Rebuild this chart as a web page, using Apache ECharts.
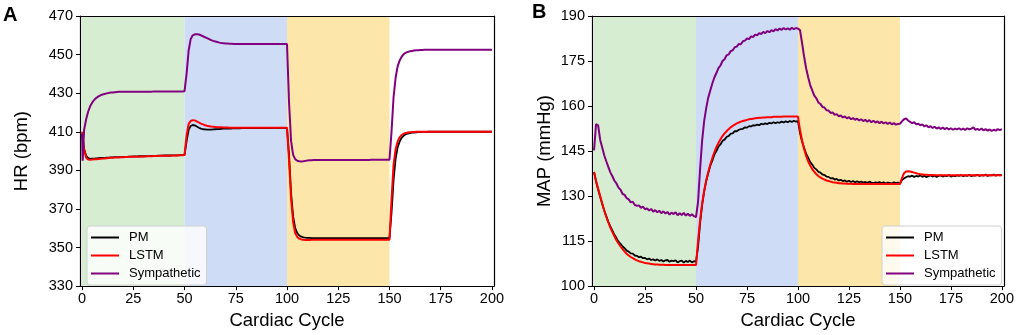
<!DOCTYPE html>
<html>
<head>
<meta charset="utf-8">
<script src="https://cdn.jsdelivr.net/npm/echarts@6/dist/echarts.min.js"></script>
<style>
html,body{margin:0;padding:0;background:#fff;}
#chart{width:1017px;height:335px;}
</style>
</head>
<body>
<div id="chart"></div>
<script>
// ---------------- DATA ----------------
const seriesNames = ['PM', 'LSTM', 'Sympathetic'];
const xTicks = [0, 25, 50, 75, 100, 125, 150, 175, 200];
const hrTicks = [330, 350, 370, 390, 410, 430, 450, 470];
const mapTicks = [100, 115, 130, 145, 160, 175, 190];
const phases = [[0, 50], [50, 100], [100, 150]];

// Panel A: HR (bpm), cycles 0..200
const pmA = [
 409, 401, 397.5, 396.3, 396, 396, 396.1, 396.2, 396.3, 396.4,
 396.5, 396.5, 396.6, 396.6, 396.7, 396.7, 396.8, 396.8, 396.9, 396.9,
 397, 397, 397, 397.1, 397.1, 397.2, 397.2, 397.2, 397.3, 397.3,
 397.3, 397.4, 397.4, 397.4, 397.5, 397.5, 397.5, 397.6, 397.6, 397.6,
 397.7, 397.7, 397.7, 397.7, 397.8, 397.8, 397.8, 397.8, 397.9, 397.9,
 398, 405, 411, 413, 413.5, 413.3, 412.7, 412.1, 411.6, 411.3,
 411.2, 411.1, 411.1, 411.1, 411.2, 411.3, 411.4, 411.4, 411.5, 411.6,
 411.6, 411.7, 411.7, 411.7, 411.8, 411.8, 411.8, 411.8, 411.9, 411.9,
 411.9, 411.9, 411.9, 411.9, 411.9, 411.9, 411.9, 411.9, 411.9, 411.9,
 411.9, 411.9, 411.9, 411.9, 411.9, 411.9, 411.9, 411.9, 411.9, 411.9,
 411.9, 398, 378, 366, 360, 357.5, 356.2, 355.6, 355.3, 355.1,
 355, 355, 354.9, 354.9, 354.9, 354.9, 354.9, 354.9, 354.9, 354.9,
 354.9, 354.9, 354.9, 354.9, 354.9, 354.9, 354.9, 354.9, 354.9, 354.9,
 354.9, 354.9, 354.9, 354.9, 354.9, 354.9, 354.9, 354.9, 354.9, 354.9,
 354.9, 354.9, 354.9, 354.9, 354.9, 354.9, 354.9, 354.9, 354.9, 354.9,
 354.9, 368, 385, 396, 402, 405, 407, 408, 408.7, 409.1,
 409.3, 409.5, 409.6, 409.7, 409.8, 409.8, 409.9, 409.9, 409.9, 410,
 410, 410, 410, 410, 410, 410, 410, 410, 410, 410,
 410, 410, 410, 410, 410, 410, 410, 410, 410, 410,
 410, 410, 410, 410, 410, 410, 410, 410, 410, 410,
 410
];
const lstmA = [
 410, 401, 396.5, 395.6, 395.5, 395.6, 395.7, 395.8, 395.9, 396,
 396.1, 396.2, 396.3, 396.4, 396.5, 396.5, 396.6, 396.7, 396.7, 396.8,
 396.8, 396.9, 396.9, 397, 397, 397, 397.1, 397.1, 397.1, 397.2,
 397.2, 397.2, 397.3, 397.3, 397.3, 397.4, 397.4, 397.4, 397.5, 397.5,
 397.5, 397.6, 397.6, 397.6, 397.7, 397.7, 397.7, 397.8, 397.8, 397.8,
 397.9, 408, 414, 415.6, 416, 415.9, 415.4, 414.8, 414.2, 413.8,
 413.4, 413.1, 412.9, 412.7, 412.6, 412.5, 412.4, 412.3, 412.3, 412.2,
 412.2, 412.2, 412.1, 412.1, 412.1, 412.1, 412.1, 412.1, 412.1, 412.1,
 412.1, 412.1, 412.1, 412.1, 412.1, 412.1, 412.1, 412.1, 412.1, 412.1,
 412.1, 412.1, 412.1, 412.1, 412.1, 412.1, 412.1, 412.1, 412.1, 412.1,
 412.1, 395, 375, 363, 357.5, 355.5, 354.6, 354.2, 354, 353.9,
 353.9, 353.9, 354, 354, 354, 354, 354, 354, 354, 354,
 354, 354, 354, 354, 354, 354, 354, 354, 354, 354,
 354, 354, 354, 354, 354, 354, 354, 354, 354, 354,
 354, 354, 354, 354, 354, 354, 354, 354, 354, 354,
 354, 375, 393, 401, 405, 407.2, 408.3, 409, 409.4, 409.6,
 409.8, 409.9, 409.9, 410, 410, 410, 410, 410, 410, 410,
 410, 410, 410, 410, 410, 410, 410, 410, 410, 410,
 410, 410, 410, 410, 410, 410, 410, 410, 410, 410,
 410, 410, 410, 410, 410, 410, 410, 410, 410, 410,
 410
];
// sympathetic HR: first two points are the initial transient [cycle, value]
const symAHead = [[0, 409], [0.3, 395]];
// cycles 1..200
const symA = [
        411, 416.5, 420.5, 423.3, 425.2, 426.6, 427.6, 428.3, 428.9,
 429.3, 429.6, 429.9, 430.1, 430.3, 430.4, 430.5, 430.6, 430.7, 430.7,
 430.8, 430.8, 430.8, 430.8, 430.8, 430.8, 430.8, 430.8, 430.8, 430.8,
 430.8, 430.8, 430.8, 430.8, 430.8, 430.9, 430.9, 430.9, 430.9, 430.9,
 430.9, 430.9, 430.9, 430.9, 430.9, 430.9, 430.9, 430.9, 430.9, 430.9,
 431, 440, 452, 458, 460, 460.5, 460.6, 460.4, 460, 459.5,
 459, 458.5, 458, 457.5, 457.1, 456.8, 456.5, 456.2, 456, 455.9,
 455.8, 455.7, 455.6, 455.6, 455.5, 455.5, 455.5, 455.5, 455.5, 455.5,
 455.5, 455.5, 455.5, 455.5, 455.5, 455.5, 455.5, 455.5, 455.5, 455.5,
 455.5, 455.5, 455.5, 455.5, 455.5, 455.5, 455.5, 455.5, 455.5, 455.5,
 455.5, 425, 405, 398, 395.8, 395, 394.7, 394.6, 394.7, 394.9,
 395.1, 395.2, 395.2, 395.3, 395.3, 395.3, 395.4, 395.4, 395.4, 395.4,
 395.4, 395.4, 395.4, 395.4, 395.4, 395.4, 395.4, 395.4, 395.4, 395.4,
 395.4, 395.4, 395.4, 395.4, 395.4, 395.4, 395.4, 395.4, 395.4, 395.4,
 395.4, 395.5, 395.5, 395.5, 395.5, 395.5, 395.5, 395.5, 395.5, 395.5,
 395.5, 410, 428, 438, 444, 447, 449, 450.3, 451, 451.4,
 451.7, 451.9, 452.1, 452.2, 452.3, 452.4, 452.4, 452.5, 452.5, 452.5,
 452.5, 452.5, 452.5, 452.5, 452.5, 452.5, 452.5, 452.5, 452.5, 452.5,
 452.5, 452.5, 452.5, 452.5, 452.5, 452.5, 452.5, 452.5, 452.5, 452.5,
 452.5, 452.5, 452.5, 452.5, 452.5, 452.5, 452.5, 452.5, 452.5, 452.5,
 452.5
];

// Panel B: MAP (mmHg), cycles 0..200
const pmB = [
 138, 134.8, 132.2, 129.8, 127.4, 125.2, 123.3, 121.4, 119.9, 118.5,
 117.1, 116, 114.8, 114.1, 113.2, 112.6, 111.8, 111.5, 110.9, 110.8,
 110.2, 110.1, 109.6, 109.8, 109.3, 109.4, 108.9, 109.2, 108.7, 108.9,
 108.5, 108.9, 108.4, 108.7, 108.2, 108.6, 108.7, 108.1, 108.5, 108.3,
 108.6, 107.9, 108.3, 108.5, 107.8, 108.4, 108.0, 108.5, 107.9, 108.3,
 108.1, 113, 121, 127, 131.5, 135, 137.6, 140.1, 141.8, 143.8,
 145.0, 146.5, 147.2, 148.4, 148.8, 149.7, 150.0, 150.8, 150.9, 151.6,
 151.6, 152.1, 152.3, 152.4, 152.9, 152.8, 153.3, 153.2, 153.6, 153.5,
 153.8, 153.6, 154.1, 153.9, 154.2, 154.0, 154.4, 154.2, 154.6, 154.3,
 154.6, 154.4, 154.8, 154.5, 154.9, 154.6, 155.0, 154.7, 155.1, 154.8,
 155.0, 151, 148.2, 146.1, 144.1, 142.8, 141.3, 140.5, 139.4, 138.9,
 138.1, 137.8, 137.2, 137.0, 136.5, 136.4, 135.9, 136.0, 135.5, 135.7,
 135.2, 135.4, 135.0, 135.2, 134.8, 135.1, 134.7, 135.0, 134.6, 134.9,
 134.6, 134.8, 134.5, 134.7, 134.4, 134.8, 134.5, 134.3, 134.6, 134.4,
 134.7, 134.3, 134.6, 134.2, 134.5, 134.4, 134.2, 134.6, 134.3, 134.5,
 134.2, 135.3, 135.9, 136.3, 136.6, 136.5, 136.8, 136.4, 136.7, 136.5,
 136.9, 136.4, 136.8, 136.3, 136.6, 136.9, 136.5, 136.8, 136.4, 136.7,
 136.9, 136.5, 136.8, 136.6, 137.0, 136.5, 136.8, 136.6, 136.9, 136.7,
 137.0, 136.6, 136.9, 136.7, 137.1, 136.6, 136.9, 136.8, 137.1, 136.7,
 137.0, 136.8, 137.2, 136.7, 137.0, 136.9, 137.2, 136.8, 137.1, 136.9,
 137.1
];
const lstmB = [
 138, 135, 132.5, 130, 127.5, 125.2, 123.1, 121.2, 119.5, 118,
 116.6, 115.3, 114.2, 113.2, 112.3, 111.5, 110.8, 110.2, 109.7, 109.3,
 108.9, 108.6, 108.3, 108.1, 107.9, 107.7, 107.6, 107.5, 107.4, 107.3,
 107.2, 107.2, 107.1, 107.1, 107.1, 107.0, 107.0, 107.0, 107.0, 107.0,
 107.0, 107.0, 107.0, 107.0, 107.0, 107.0, 107.0, 107.0, 107.0, 107.0,
 107.0, 115, 122, 127.5, 131.8, 135.2, 138, 140.5, 142.7, 144.6,
 146.3, 147.7, 148.9, 150, 150.9, 151.6, 152.3, 152.9, 153.4, 153.8,
 154.2, 154.5, 154.8, 155.0, 155.2, 155.4, 155.6, 155.7, 155.8, 155.9,
 156.0, 156.1, 156.1, 156.2, 156.2, 156.3, 156.3, 156.3, 156.4, 156.4,
 156.4, 156.4, 156.4, 156.5, 156.5, 156.5, 156.5, 156.5, 156.5, 156.5,
 156.5, 152, 148.5, 145.7, 143.4, 141.6, 140.2, 139, 138.1, 137.3,
 136.7, 136.2, 135.8, 135.5, 135.2, 135, 134.8, 134.6, 134.5, 134.4,
 134.3, 134.3, 134.2, 134.2, 134.1, 134.1, 134.1, 134.0, 134.0, 134.0,
 134.0, 134.0, 134.0, 134.0, 134.0, 134.0, 134.0, 134.0, 134.0, 134.0,
 134.0, 134.0, 134.0, 134.0, 134.0, 134.0, 134.0, 134.0, 134.0, 134.0,
 134.0, 136, 137.6, 138.2, 138.3, 138.2, 138, 137.8, 137.6, 137.4,
 137.3, 137.2, 137.1, 137.1, 137.0, 137.0, 137.0, 136.9, 136.9, 136.9,
 136.9, 136.9, 136.9, 136.9, 136.9, 136.9, 136.9, 136.9, 136.9, 136.9,
 136.9, 136.9, 136.9, 136.9, 136.9, 136.9, 136.9, 136.9, 136.9, 136.9,
 136.9, 136.9, 136.9, 136.9, 136.9, 136.9, 136.9, 136.9, 136.9, 136.9,
 136.9
];
const symB = [
 145.2, 154, 153.6, 148.8, 146.2, 143.6, 141.6, 139.7, 137.9, 136.6,
 135.1, 134.2, 132.8, 132.1, 130.7, 130.4, 129.3, 128.9, 127.9, 128.1,
 127.0, 126.8, 126.9, 126.1, 126.5, 125.6, 125.9, 125.2, 125.7, 124.8,
 125.3, 124.6, 125.1, 124.3, 124.9, 124.2, 124.7, 123.8, 124.5, 124.0,
 124.6, 123.6, 124.3, 123.7, 124.4, 123.5, 124.1, 123.4, 123.9, 123.3,
 123.0, 128, 139, 148.5, 155, 159.3, 162.8, 165.2, 167.5, 169.5,
 171.0, 172.6, 173.5, 175.0, 175.6, 176.9, 177.2, 178.3, 178.6, 179.6,
 179.8, 180.7, 180.6, 181.6, 181.8, 182.5, 182.3, 183.2, 183.0, 183.8,
 183.6, 184.3, 184.0, 184.7, 184.3, 185.0, 184.6, 185.3, 184.9, 185.6,
 185.2, 185.8, 185.4, 186.0, 185.5, 185.9, 185.4, 186.1, 185.6, 186.0,
 185.8, 185.3, 181, 176.5, 172.6, 169.6, 167.0, 165.2, 163.5, 162.6,
 161.2, 160.7, 159.7, 159.5, 158.6, 158.5, 157.7, 157.9, 157.1, 157.3,
 156.6, 156.9, 156.2, 156.5, 155.9, 156.3, 155.6, 156.0, 155.4, 155.8,
 155.2, 155.6, 155.0, 155.4, 154.8, 155.3, 154.6, 155.1, 154.5, 154.9,
 154.3, 154.8, 154.2, 154.6, 154.0, 154.5, 153.9, 154.3, 153.8, 154.0,
 154.1, 154.9, 155.6, 155.9, 155.2, 154.7, 154.3, 154.6, 153.9, 154.1,
 153.6, 153.9, 153.2, 153.6, 152.9, 153.3, 152.7, 153.1, 152.5, 152.9,
 152.4, 152.8, 152.3, 152.7, 152.2, 152.6, 152.1, 152.5, 152.2, 152.6,
 152.1, 152.5, 152.0, 152.6, 152.2, 152.5, 152.9, 152.1, 152.4, 152.0,
 152.5, 151.9, 152.3, 151.8, 152.2, 151.7, 152.1, 151.8, 152.3, 152.0,
 152.3
];

// ---------------- STYLE ----------------
const FONT = '"Liberation Sans", Arial, Helvetica, sans-serif';
const colors = { PM: '#000000', LSTM: '#ff0000', Sympathetic: '#800080' };
const phaseColors = ['#d6edd1', '#cfdcf6', '#fde6aa'];
const AXIS_LINE = { show: true, onZero: false, lineStyle: { color: '#000', width: 1.2 } };

function pairs(vals, start) {
  return vals.map((v, i) => [i + start, v]);
}

function xAxisFor(idx) {
  return {
    type: 'value', gridIndex: idx, min: -1, max: 201, z: 10,
    name: 'Cardiac Cycle', nameLocation: 'middle', nameGap: 19,
    nameTextStyle: { fontFamily: FONT, fontSize: 18.5, color: '#000' },
    axisLine: AXIS_LINE,
    axisTick: { show: true, length: 4, inside: false, customValues: xTicks, lineStyle: { color: '#000', width: 1 } },
    axisLabel: { customValues: xTicks, fontFamily: FONT, fontSize: 14.5, color: '#000', margin: 5 },
    splitLine: { show: false }
  };
}
function frameX(idx) {
  return {
    type: 'value', gridIndex: idx, position: 'top', min: -1, max: 201, z: 10,
    axisLine: AXIS_LINE, axisTick: { show: false }, axisLabel: { show: false }, splitLine: { show: false }
  };
}
function yAxisFor(idx, name, min, max, ticks, gap) {
  return {
    type: 'value', gridIndex: idx, min: min, max: max, z: 10,
    name: name, nameLocation: 'middle', nameGap: gap,
    nameTextStyle: { fontFamily: FONT, fontSize: 18.5, color: '#000' },
    axisLine: AXIS_LINE,
    axisTick: { show: true, length: 4, inside: false, customValues: ticks, lineStyle: { color: '#000', width: 1 } },
    axisLabel: { customValues: ticks, fontFamily: FONT, fontSize: 14.5, color: '#000', margin: 7 },
    splitLine: { show: false }
  };
}
function frameY(idx, min, max) {
  return {
    type: 'value', gridIndex: idx, position: 'right', min: min, max: max, z: 10,
    axisLine: AXIS_LINE, axisTick: { show: false }, axisLabel: { show: false }, splitLine: { show: false }
  };
}
function lineSeries(name, data, gi, withShade) {
  const s = {
    name: name, type: 'line', xAxisIndex: gi, yAxisIndex: gi,
    data: data, showSymbol: false, symbol: 'none', smooth: false,
    lineStyle: { color: colors[name], width: name === 'PM' ? 1.8 : 2 },
    itemStyle: { color: colors[name] },
    animation: false, z: 3
  };
  if (withShade) {
    s.markArea = {
      silent: true,
      data: phases.map((p, k) => [
        { xAxis: p[0], itemStyle: { color: phaseColors[k], opacity: 1 } },
        { xAxis: p[1] }
      ])
    };
  }
  return s;
}
function legendFor(left) {
  return {
    data: seriesNames, orient: 'vertical', left: left, top: 226,
    icon: 'rect', itemWidth: 28, itemHeight: 2, itemGap: 5,
    padding: [5, 6, 5, 4], z: 20,
    backgroundColor: 'rgba(255,255,255,0.8)', borderColor: '#d0d0d0', borderWidth: 1, borderRadius: 3,
    textStyle: { fontFamily: FONT, fontSize: 13, color: '#000', padding: [0, 0, 0, 5] },
    selectedMode: false
  };
}

const option = {
  animation: false,
  backgroundColor: '#fff',
  grid: [
    { left: 80, top: 16, width: 414, height: 276 },
    { left: 592, top: 16, width: 414, height: 276 }
  ],
  xAxis: [xAxisFor(0), xAxisFor(1), frameX(0), frameX(1)],
  yAxis: [
    yAxisFor(0, 'HR (bpm)', 330, 470, hrTicks, 49),
    yAxisFor(1, 'MAP (mmHg)', 100, 190, mapTicks, 38),
    frameY(0, 330, 470),
    frameY(1, 100, 190)
  ],
  legend: [legendFor(87), legendFor(882)],
  graphic: [
    { type: 'text', left: 3, top: 5, style: { text: 'A', fontFamily: FONT, fontSize: 20, fontWeight: 'bold', fill: '#000' } },
    { type: 'text', left: 532, top: 2, style: { text: 'B', fontFamily: FONT, fontSize: 20, fontWeight: 'bold', fill: '#000' } }
  ],
  series: [
    lineSeries('PM', pairs(pmA, 0), 0, true),
    lineSeries('LSTM', pairs(lstmA, 0), 0, false),
    lineSeries('Sympathetic', symAHead.concat(pairs(symA, 1)), 0, false),
    lineSeries('PM', pairs(pmB, 0), 1, true),
    lineSeries('LSTM', pairs(lstmB, 0), 1, false),
    lineSeries('Sympathetic', pairs(symB, 0), 1, false)
  ]
};

const chart = echarts.init(document.getElementById('chart'), null, { renderer: 'canvas' });
chart.setOption(option);
</script>
</body>
</html>
